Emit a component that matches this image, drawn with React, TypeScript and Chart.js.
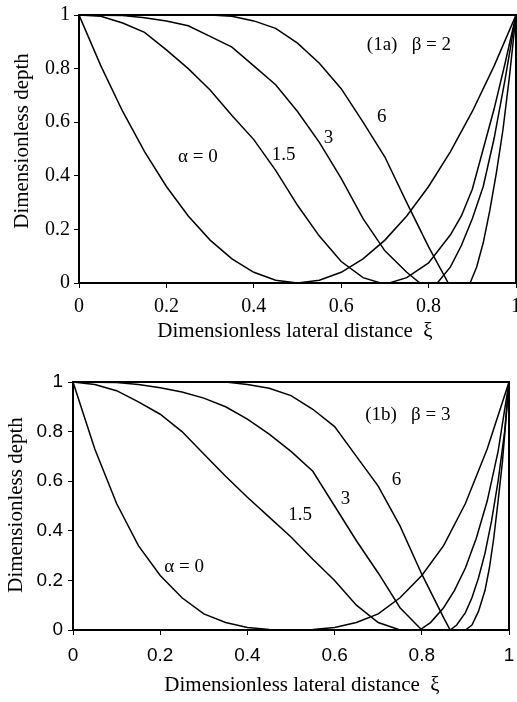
import React, { useEffect, useRef } from 'react';
import { Chart, registerables } from 'chart.js';

Chart.register(...registerables);

// ---------- axis ticks ----------
const XI_TICKS = [0, 0.2, 0.4, 0.6, 0.8, 1];
const XI_TICK_LABELS = ['0', '0.2', '0.4', '0.6', '0.8', '1'];
const DEPTH_TICKS = [0, 0.2, 0.4, 0.6, 0.8, 1];
const DEPTH_TICK_LABELS = ['0', '0.2', '0.4', '0.6', '0.8', '1'];

const X_TITLE = 'Dimensionless lateral distance  ξ';
const Y_TITLE = 'Dimensionless depth';

// ---------- panel (1a): beta = 2 ----------
const B2_A0_X = [0, .05, .1, .15, .2, .25, .3, .35, .4, .45, .5, .55, .6, .65, .7, .75, .8, .85, .9, .95, 1];
const B2_A0_Y = [1, .81, .64, .49, .36, .25, .16, .09, .04, .01, 0, .01, .04, .09, .16, .25, .36, .49, .64, .81, 1];

const B2_A15_X = [0, .05, .1, .15, .2, .25, .3, .35, .4, .45, .5, .55, .6, .65, .69, .71, .75, .8, .85, .875, .9, .925, .95, .975, 1];
const B2_A15_Y = [1, .995, .97, .935, .87, .80, .72, .625, .535, .42, .29, .175, .08, .02, 0, 0, .02, .075, .18, .25, .35, .5, .65, .82, 1];

const B2_A3_X = [0, .1, .15, .2, .25, .3, .35, .4, .45, .5, .55, .6, .65, .7, .75, .78, .82, .85, .875, .9, .925, .95, .975, 1];
const B2_A3_Y = [1, .998, .99, .978, .96, .92, .88, .81, .74, .64, .525, .39, .24, .12, .04, 0, 0, .06, .14, .24, .36, .54, .76, 1];

const B2_A6_X = [0, .3, .35, .4, .45, .5, .55, .6, .65, .7, .75, .8, .845, .895, .91, .925, .94, .955, .97, .985, 1];
const B2_A6_Y = [1, 1, .995, .978, .95, .895, .82, .725, .60, .47, .30, .135, 0, 0, .06, .15, .27, .41, .57, .77, 1];

// ---------- panel (1b): beta = 3 ----------
const B3_A0_X = [0, .05, .1, .15, .2, .25, .3, .35, .4, .45, .5, .55, .6, .65, .7, .75, .8, .85, .9, .95, 1];
const B3_A0_Y = [1, .73, .51, .34, .22, .13, .065, .03, .01, .002, 0, .002, .01, .03, .065, .13, .22, .34, .51, .73, 1];

const B3_A15_X = [0, .05, .1, .15, .2, .25, .3, .35, .4, .45, .5, .55, .6, .65, .7, .75, .795, .82, .85, .875, .9, .925, .95, .975, 1];
const B3_A15_Y = [1, .99, .965, .92, .87, .80, .71, .62, .535, .455, .375, .285, .20, .10, .03, 0, 0, .03, .09, .16, .25, .37, .52, .72, 1];

const B3_A3_X = [0, .1, .15, .2, .25, .3, .35, .4, .45, .5, .55, .6, .65, .7, .75, .8, .865, .88, .9, .915, .93, .945, .96, .975, .99, 1];
const B3_A3_Y = [1, .998, .99, .977, .96, .935, .9, .85, .79, .72, .64, .50, .36, .23, .09, 0, 0, .02, .07, .13, .21, .31, .44, .6, .8, 1];

const B3_A6_X = [0, .35, .4, .45, .5, .55, .6, .65, .7, .75, .8, .85, .865, .9, .915, .93, .945, .955, .965, .975, .985, 1];
const B3_A6_Y = [1, 1, .99, .975, .945, .89, .82, .70, .58, .42, .225, .05, 0, 0, .02, .075, .16, .25, .37, .52, .68, 1];

// ---------- curve annotations ----------
const B2_LABEL_TEXT = ['α = 0', '1.5', '3', '6', '(1a)   β = 2'];
const B2_LABEL_XI = [0.272, 0.468, 0.571, 0.693, 0.755];
const B2_LABEL_DEPTH = [0.47, 0.478, 0.54, 0.62, 0.888];

const B3_LABEL_TEXT = ['α = 0', '1.5', '3', '6', '(1b)   β = 3'];
const B3_LABEL_XI = [0.255, 0.521, 0.625, 0.742, 0.768];
const B3_LABEL_DEPTH = [0.255, 0.464, 0.527, 0.605, 0.867];

const SERIF = "'Liberation Serif', 'Times New Roman', Times, serif";
const SANS = "'Liberation Sans', Arial, Helvetica, sans-serif";

const toPoints = (xs: number[], ys: number[]) => xs.map((x, i) => ({ x, y: ys[i] }));

const decorPlugin = {
  id: 'panelDecor',
  afterDatasetsDraw(chart: any, _args: any, opts: any) {
    const { ctx, chartArea, scales } = chart;
    const { left, top, right, bottom } = chartArea;
    ctx.save();
    ctx.strokeStyle = '#000';
    ctx.lineWidth = opts.frameWidth || 2;
    ctx.strokeRect(left, top, right - left, bottom - top);
    ctx.fillStyle = '#000';
    ctx.font = `${opts.fontSize}px ${SERIF}`;
    ctx.textAlign = 'center';
    ctx.textBaseline = 'middle';
    const texts: string[] = opts.texts || [];
    texts.forEach((t, i) => {
      const px = scales.x.getPixelForValue(opts.xs[i]);
      const py = scales.y.getPixelForValue(opts.ys[i]);
      ctx.fillText(t, px, py);
    });
    // axis titles
    ctx.font = `${opts.titleSize}px ${SERIF}`;
    ctx.fillText(X_TITLE, opts.xTitlePos[0], opts.xTitlePos[1]);
    ctx.translate(opts.yTitlePos[0], opts.yTitlePos[1]);
    ctx.rotate(-Math.PI / 2);
    ctx.fillText(Y_TITLE, 0, 0);
    ctx.restore();
  },
};

interface PanelSpec {
  curves: { x: number[]; y: number[] }[];
  texts: string[];
  labelXs: number[];
  labelYs: number[];
  tickFont: string;
  tickSize: number;
  yAxisWidth: number;
  xAxisHeight: number;
  padTop: number;
  padRight: number;
  xTickPad: number;
  yTickPad: number;
  xTitlePos: [number, number];
  yTitlePos: [number, number];
}

function makeConfig(p: PanelSpec): any {
  return {
    type: 'scatter',
    data: {
      datasets: p.curves.map((c) => ({
        data: toPoints(c.x, c.y),
        showLine: true,
        borderColor: '#000',
        backgroundColor: '#000',
        borderWidth: 1.5,
        pointRadius: 0,
        tension: 0,
      })),
    },
    options: {
      responsive: false,
      animation: false,
      events: [],
      layout: { padding: { left: 0, top: p.padTop, right: p.padRight, bottom: 0 } },
      plugins: {
        legend: { display: false },
        tooltip: { enabled: false },
        panelDecor: {
          frameWidth: 2,
          fontSize: 19,
          titleSize: 21,
          texts: p.texts,
          xs: p.labelXs,
          ys: p.labelYs,
          xTitlePos: p.xTitlePos,
          yTitlePos: p.yTitlePos,
        },
      },
      scales: {
        x: {
          type: 'linear',
          min: 0,
          max: 1,
          afterBuildTicks: (s: any) => {
            s.ticks = XI_TICKS.map((v) => ({ value: v }));
          },
          afterFit: (s: any) => {
            s.height = p.xAxisHeight;
            s.paddingLeft = 0;
            s.paddingRight = 0;
          },
          ticks: {
            callback: (_v: any, i: number) => XI_TICK_LABELS[i],
            color: '#000',
            font: { family: p.tickFont, size: p.tickSize },
            padding: p.xTickPad,
            maxRotation: 0,
            autoSkip: false,
          },
          grid: { drawOnChartArea: false, drawTicks: true, tickLength: 5, color: '#000', lineWidth: 1 },
          border: { display: false },
          title: { display: false },
        },
        y: {
          type: 'linear',
          min: 0,
          max: 1,
          afterBuildTicks: (s: any) => {
            s.ticks = DEPTH_TICKS.map((v) => ({ value: v }));
          },
          afterFit: (s: any) => {
            s.width = p.yAxisWidth;
            s.paddingTop = 0;
            s.paddingBottom = 0;
          },
          ticks: {
            callback: (_v: any, i: number) => DEPTH_TICK_LABELS[i],
            color: '#000',
            font: { family: p.tickFont, size: p.tickSize },
            padding: p.yTickPad,
            autoSkip: false,
          },
          grid: { drawOnChartArea: false, drawTicks: true, tickLength: 5, color: '#000', lineWidth: 1 },
          border: { display: false },
          title: { display: false },
        },
      },
    },
    plugins: [decorPlugin],
  };
}

export default function App() {
  const topRef = useRef<HTMLCanvasElement | null>(null);
  const botRef = useRef<HTMLCanvasElement | null>(null);

  useEffect(() => {
    const topSpec: PanelSpec = {
      curves: [
        { x: B2_A0_X, y: B2_A0_Y },
        { x: B2_A15_X, y: B2_A15_Y },
        { x: B2_A3_X, y: B2_A3_Y },
        { x: B2_A6_X, y: B2_A6_Y },
      ],
      texts: B2_LABEL_TEXT,
      labelXs: B2_LABEL_XI,
      labelYs: B2_LABEL_DEPTH,
      tickFont: SERIF,
      tickSize: 20,
      yAxisWidth: 79,
      xAxisHeight: 67,
      padTop: 15,
      padRight: 1,
      xTickPad: 7,
      yTickPad: 4,
      xTitlePos: [295, 331],
      yTitlePos: [22, 141],
    };
    const botSpec: PanelSpec = {
      curves: [
        { x: B3_A0_X, y: B3_A0_Y },
        { x: B3_A15_X, y: B3_A15_Y },
        { x: B3_A3_X, y: B3_A3_Y },
        { x: B3_A6_X, y: B3_A6_Y },
      ],
      texts: B3_LABEL_TEXT,
      labelXs: B3_LABEL_XI,
      labelYs: B3_LABEL_DEPTH,
      tickFont: SANS,
      tickSize: 19,
      yAxisWidth: 73,
      xAxisHeight: 72,
      padTop: 42,
      padRight: 8,
      xTickPad: 9,
      yTickPad: 5,
      xTitlePos: [302, 345],
      yTitlePos: [16, 165],
    };
    const c1 = new Chart(topRef.current as HTMLCanvasElement, makeConfig(topSpec));
    const c2 = new Chart(botRef.current as HTMLCanvasElement, makeConfig(botSpec));
    return () => {
      c1.destroy();
      c2.destroy();
    };
  }, []);

  return (
    <div style={{ position: 'absolute', left: 0, top: 0, width: 517, height: 702, background: '#fff' }}>
      <canvas ref={topRef} width={517} height={350} style={{ position: 'absolute', left: 0, top: 0 }} />
      <canvas ref={botRef} width={517} height={362} style={{ position: 'absolute', left: 0, top: 340 }} />
    </div>
  );
}
